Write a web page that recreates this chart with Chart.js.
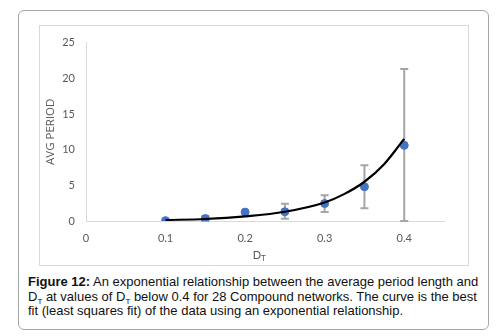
<!DOCTYPE html>
<html>
<head>
<meta charset="utf-8">
<script src="https://cdn.jsdelivr.net/npm/chart.js@4"></script>
<style>
  body { margin: 0; background: #fff; width: 500px; height: 336px; position: relative; overflow: hidden; }
  #outer { position: absolute; left: 18px; top: 10px; width: 471px; height: 320px; box-sizing: border-box;
           border: 1.5px solid #a6a6a6; border-radius: 6px; }
  #inner { position: absolute; left: 39px; top: 25px; width: 430px; height: 241px; box-sizing: border-box;
           border: 1px solid #d9d9d9; }
  #wrap { position: absolute; left: 39px; top: 25px; width: 430px; height: 241px; }
  #caption { position: absolute; left: 28px; top: 275px; font-family: 'Liberation Sans', Arial, sans-serif;
             font-size: 13px; line-height: 14.5px; color: #111; white-space: nowrap; }
  #caption sub { font-size: 8px; line-height: 0; vertical-align: -3px; }
</style>
</head>
<body>
<div id="outer"></div>
<div id="inner"></div>
<div id="wrap"><canvas id="chart"></canvas></div>
<div id="caption"><b>Figure 12:</b> An exponential relationship between the average period length and<br>D<sub>T</sub> at values of D<sub>T</sub> below 0.4 for 28 Compound networks. The curve is the best<br>fit (least squares fit) of the data using an exponential relationship.</div>
<script>
let dtValues = [0.1, 0.15, 0.2, 0.25, 0.3, 0.35, 0.4];
let avgPeriod = [0.05, 0.35, 1.25, 1.3, 2.45, 4.8, 10.6];
let errLow = [null, 0.0, null, 0.3, 1.25, 1.8, 0.0];
let errHigh = [null, 0.7, null, 2.4, 3.6, 7.8, 21.3];

// best-fit curve
let fitX = [0.1, 0.15, 0.2, 0.25, 0.3, 0.325, 0.35, 0.375, 0.4];
let fitY = [0.14, 0.28, 0.65, 1.3, 2.6, 3.8, 5.5, 8.0, 11.5];

let xTicks = [0, 0.1, 0.2, 0.3, 0.4];
let yTicks = [0, 5, 10, 15, 20, 25];

let tickFont = {family: 'Lato', size: 11};

let errorBars = {
    id: 'errorBars',
    beforeDatasetsDraw(chart) {
        let ctx = chart.ctx, xs = chart.scales.x, ys = chart.scales.y;
        ctx.save();
        ctx.strokeStyle = '#a5a5a5';
        ctx.lineWidth = 2;
        dtValues.forEach(function(x, i) {
            if (errLow[i] === null) return;
            let px = xs.getPixelForValue(x);
            let top = ys.getPixelForValue(errHigh[i]);
            let bot = ys.getPixelForValue(errLow[i]);
            ctx.beginPath();
            ctx.moveTo(px, top); ctx.lineTo(px, bot);
            ctx.moveTo(px - 4, top); ctx.lineTo(px + 4, top);
            ctx.moveTo(px - 4, bot); ctx.lineTo(px + 4, bot);
            ctx.stroke();
        });
        ctx.restore();
    }
};

// axis titles: D with subscript T below, AVG PERIOD rotated at the left
let axisTitles = {
    id: 'axisTitles',
    afterDraw(chart) {
        let ctx = chart.ctx, area = chart.chartArea;
        let cx = (area.left + area.right) / 2 - 4;
        ctx.save();
        ctx.fillStyle = '#595959';
        ctx.textBaseline = 'middle';
        ctx.font = '11px Lato';
        let w = ctx.measureText('D').width;
        ctx.fillText('D', cx - w, 230);
        ctx.font = '8px Lato';
        ctx.fillText('T', cx, 233);

        ctx.translate(12, (area.top + area.bottom) / 2);
        ctx.rotate(-Math.PI / 2);
        ctx.textAlign = 'center';
        ctx.font = '11.5px "Open Sans"';
        ctx.fillText('AVG PERIOD', 0, 0);
        ctx.restore();
    }
};

let chart = new Chart(document.getElementById('chart'), {
    type: 'scatter',
    data: {
        datasets: [
            {
                label: 'Fit',
                type: 'line',
                data: fitX.map(function(x, i) {return {x: x, y: fitY[i]};}),
                borderColor: '#000',
                borderWidth: 2.2,
                pointRadius: 0,
                fill: false,
                cubicInterpolationMode: 'monotone',
                order: 0
            },
            {
                label: 'AVG PERIOD',
                data: dtValues.map(function(x, i) {return {x: x, y: avgPeriod[i]};}),
                backgroundColor: '#4472c4',
                borderColor: '#4472c4',
                pointRadius: 4,
                order: 1
            }
        ]
    },
    options: {
        responsive: true,
        maintainAspectRatio: false,
        animation: false,
        layout: {padding: {top: 15, right: 25, left: 0, bottom: 0}},
        plugins: {legend: {display: false}, tooltip: {enabled: false}},
        scales: {
            x: {
                type: 'linear',
                min: 0,
                max: 0.45,
                afterBuildTicks: function(s) {s.ticks = xTicks.map(function(v) {return {value: v};});},
                afterFit: function(s) {s.height = 45;},
                grid: {display: false, drawTicks: false},
                border: {display: true, color: '#d9d9d9', width: 1},
                ticks: {font: tickFont, color: '#595959', padding: 11,
                        callback: function(v) {return String(+v.toFixed(1));}}
            },
            y: {
                min: 0,
                max: 25,
                afterBuildTicks: function(s) {s.ticks = yTicks.map(function(v) {return {value: v};});},
                afterFit: function(s) {s.width = 47;},
                grid: {display: false, drawTicks: false},
                border: {display: true, color: '#d9d9d9', width: 1},
                ticks: {font: tickFont, color: '#595959', padding: 11}
            }
        }
    },
    plugins: [errorBars, axisTitles]
});
</script>
</body>
</html>
